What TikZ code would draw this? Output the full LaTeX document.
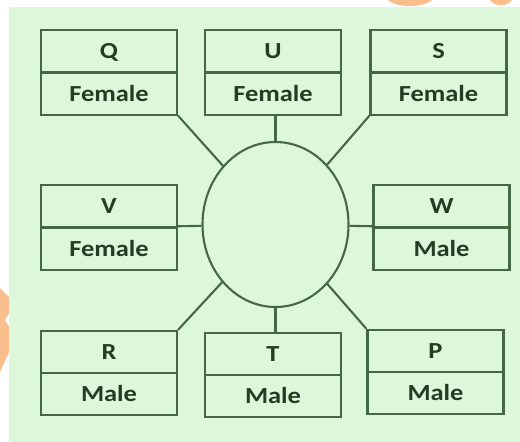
\documentclass[tikz,border=0pt]{standalone}
\usepackage{fontspec}
\usetikzlibrary{shapes.multipart,shapes.geometric}
\newfontfamily\seatfont{Carlito}[FakeStretch=1.15]
\definecolor{bggreen}{RGB}{221,247,219}
\definecolor{linegreen}{RGB}{68,104,68}
\definecolor{textgreen}{RGB}{36,60,36}
\definecolor{markorange}{RGB}{250,190,140}
\newcommand\seatpart[1]{\rule[-5pt]{0pt}{25pt}#1}
\tikzset{
  person/.style={rectangle split, rectangle split parts=2, draw=linegreen,
    line width=2.1pt, text width=136pt, align=center,
    inner ysep=7.5pt, inner xsep=0pt, text=textgreen,
    font=\fontsize{23}{27}\selectfont\seatfont\bfseries},
  link/.style={draw=linegreen, line width=2.1pt}
}
\begin{document}
\begin{tikzpicture}[x=1pt,y=-1pt]
  \useasboundingbox (0,0) rectangle (520,442);
  \fill[bggreen] (9,7) rectangle (520,442);
  % watermark bits in the margin
  \fill[markorange] (388,0) .. controls (396,8) and (424,8) .. (432,0) -- cycle;
  \fill[markorange] (490,0) .. controls (495,7) and (507,7) .. (512,0) -- cycle;
  \fill[markorange] (0,288) -- (9,297) -- (9,313) -- (5,320) -- (9,327)
    -- (9,352) -- (0,372) -- cycle;

  \node[draw=linegreen, line width=2.1pt, ellipse, minimum width=146pt,
    minimum height=165pt, inner sep=0pt] (table) at (275.5,224.5) {};

  \node[person] (Q) at (109,72.5) {\seatpart{Q} \nodepart{two} \seatpart{Female}};
  \node[person] (U) at (273,72.5) {\seatpart{U} \nodepart{two} \seatpart{Female}};
  \node[person] (S) at (438.5,72.5) {\seatpart{S} \nodepart{two} \seatpart{Female}};
  \node[person] (V) at (109,227.5) {\seatpart{V} \nodepart{two} \seatpart{Female}};
  \node[person] (W) at (441.5,227.5) {\seatpart{W} \nodepart{two} \seatpart{Male}};
  \node[person] (R) at (109,373) {\seatpart{R} \nodepart{two} \seatpart{Male}};
  \node[person] (T) at (273,375) {\seatpart{T} \nodepart{two} \seatpart{Male}};
  \node[person] (P) at (435.5,372) {\seatpart{P} \nodepart{two} \seatpart{Male}};

  \draw[link] (Q.south east) -- (table);
  \draw[link] (table.north) -- (table.north |- U.south);
  \draw[link] (S.south west) -- (table);
  \draw[link] (V) -- (table);
  \draw[link] (W) -- (table);
  \draw[link] (R.north east) -- (table);
  \draw[link] (table.south) -- (table.south |- T.north);
  \draw[link] (P.north west) -- (table);
\end{tikzpicture}
\end{document}
